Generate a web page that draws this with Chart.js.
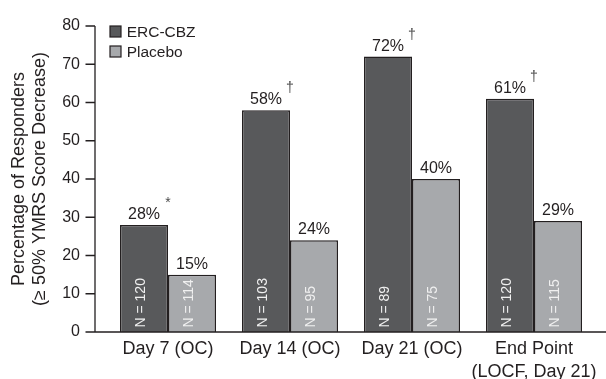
<!DOCTYPE html>
<html>
<head>
<meta charset="utf-8">
<script src="https://cdn.jsdelivr.net/npm/chart.js@4/dist/chart.umd.min.js"></script>
<style>
  html, body { margin: 0; padding: 0; background: #ffffff; }
  #wrap { width: 606px; height: 379px; }
</style>
</head>
<body>
<div id="wrap"><canvas id="chart" width="606" height="379"></canvas></div>
<script>
// Responder rates (≥ 50% YMRS score decrease) by visit
const categories = ['Day 7 (OC)', 'Day 14 (OC)', 'Day 21 (OC)', ['End Point', '(LOCF, Day 21)']];
const ercCbz = [28, 58, 72, 61];
const placebo = [15, 24, 40, 29];
const ercN = [120, 103, 89, 120];
const placeboN = [114, 95, 75, 115];
const ercMarks = ['*', '\u2020', '\u2020', '\u2020'];
const yMax = 80;
const yStep = 10;

const INK = '#231f20';
const FONT = "'Liberation Sans', Arial, Helvetica, sans-serif";

// Axis lines, tick marks, legend and in-bar / above-bar annotations
const annotate = {
  id: 'annotate',
  afterDatasetsDraw(chart) {
    const { ctx, chartArea, scales: { y } } = chart;
    const axisX = chartArea.left - 12;
    const zeroY = y.getPixelForValue(0);
    const topY = y.getPixelForValue(y.max);
    ctx.save();

    // axes
    ctx.strokeStyle = INK;
    ctx.lineWidth = 1.3;
    ctx.beginPath();
    ctx.moveTo(axisX, topY);
    ctx.lineTo(axisX, zeroY);
    ctx.lineTo(chart.width, zeroY);
    y.ticks.forEach(t => {
      const py = y.getPixelForValue(t.value);
      ctx.moveTo(axisX - 9.5, py);
      ctx.lineTo(axisX, py);
    });
    ctx.stroke();

    // value labels, significance marks and group sizes
    const nLists = [ercN, placeboN];
    chart.data.datasets.forEach((ds, i) => {
      const meta = chart.getDatasetMeta(i);
      meta.data.forEach((bar, j) => {
        const base = bar.y - 6;
        ctx.fillStyle = INK;
        ctx.font = '16px ' + FONT;
        ctx.textAlign = 'center';
        ctx.textBaseline = 'alphabetic';
        ctx.fillText(ds.data[j] + '%', bar.x, base);
        if (i === 0) {
          ctx.font = '14px ' + FONT;
          ctx.fillStyle = '#4a4a4a';
          ctx.fillText(ercMarks[j], bar.x + bar.width / 2, base - 12);
        }
        ctx.save();
        ctx.translate(bar.x - 2.5, zeroY - 4.5);
        ctx.rotate(-Math.PI / 2);
        ctx.fillStyle = '#f0f0f0';
        ctx.font = '14px ' + FONT;
        ctx.textAlign = 'left';
        ctx.textBaseline = 'middle';
        ctx.fillText('N = ' + nLists[i][j], 0, 0);
        ctx.restore();
      });
    });

    // legend
    chart.data.datasets.forEach((ds, i) => {
      const bx = chartArea.left + 3;
      const by = chartArea.top + i * 20;
      ctx.fillStyle = ds.backgroundColor;
      ctx.fillRect(bx, by, 11, 11);
      ctx.strokeStyle = INK;
      ctx.lineWidth = 1.2;
      ctx.strokeRect(bx, by, 11, 11);
      ctx.fillStyle = INK;
      ctx.font = '15.5px ' + FONT;
      ctx.textAlign = 'left';
      ctx.textBaseline = 'alphabetic';
      ctx.fillText(ds.label, bx + 16.7, by + 11.3);
    });

    ctx.restore();
  }
};

new Chart(document.getElementById('chart'), {
  type: 'bar',
  data: {
    labels: categories,
    datasets: [
      {
        label: 'ERC-CBZ',
        data: ercCbz,
        backgroundColor: '#58595b',
        borderColor: INK,
        borderWidth: 1.5
      },
      {
        label: 'Placebo',
        data: placebo,
        backgroundColor: '#a7a9ac',
        borderColor: INK,
        borderWidth: 1.5
      }
    ]
  },
  options: {
    responsive: false,
    animation: false,
    devicePixelRatio: 1,
    layout: { padding: { top: 26, right: 11, bottom: 0, left: 0 } },
    datasets: {
      bar: { categoryPercentage: 0.787, barPercentage: 1.0 }
    },
    plugins: {
      legend: { display: false },
      tooltip: { enabled: false }
    },
    scales: {
      x: {
        grid: { display: false, drawTicks: false },
        border: { display: false },
        ticks: {
          color: INK,
          font: { family: FONT, size: 18, lineHeight: 1.267 },
          padding: 6,
          maxRotation: 0,
          autoSkip: false
        },
        afterFit(s) { s.height = 47; s.paddingLeft = 0; s.paddingRight = 0; }
      },
      y: {
        min: 0,
        max: yMax,
        grid: { display: false, drawTicks: false },
        border: { display: false },
        ticks: {
          stepSize: yStep,
          color: INK,
          font: { family: FONT, size: 16 },
          padding: 27
        },
        title: {
          display: true,
          text: ['Percentage of Responders', '(\u2265 50% YMRS Score Decrease)'],
          color: INK,
          font: { family: FONT, size: 18, lineHeight: 1.14 },
          padding: { top: 9, bottom: 0 }
        },
        afterFit(s) { s.width = 107; s.paddingTop = 0; s.paddingBottom = 0; }
      }
    }
  },
  plugins: [annotate]
});
</script>
</body>
</html>
